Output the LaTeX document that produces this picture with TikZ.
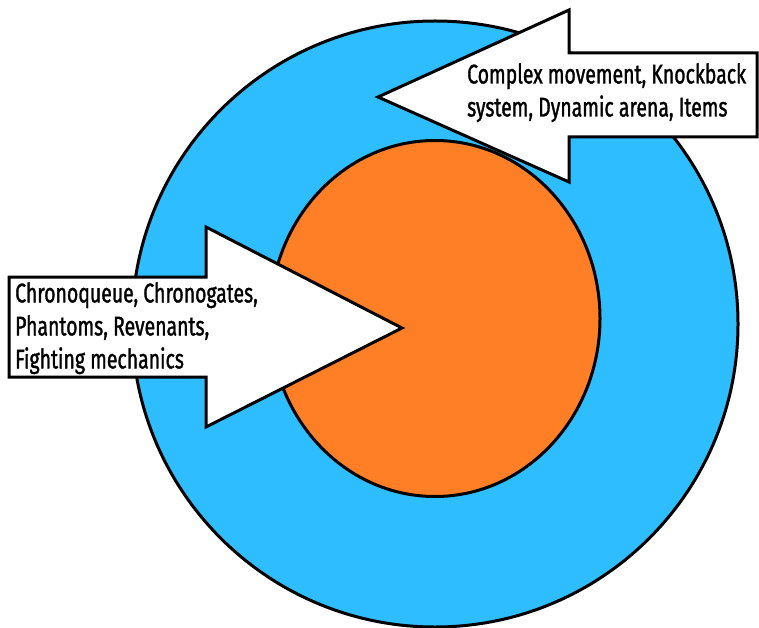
\documentclass[tikz,border=0pt]{standalone}
\usepackage{fontspec}
\setmainfont{Fira Sans}[FakeStretch=0.72,FakeBold=1.2]
\usetikzlibrary{shapes.geometric}
\definecolor{ringblue}{RGB}{46,190,255}
\definecolor{coreorange}{RGB}{255,127,39}
\begin{document}
\begin{tikzpicture}[x=1pt,y=-1pt,
  outline/.style={draw=black,line width=3pt,line join=miter},
  lbl/.style={font=\fontsize{27}{33}\selectfont, align=left, anchor=north west, inner sep=0pt, text=black}]
\useasboundingbox (0,0) rectangle (759,628);
\node[outline, circle, fill=ringblue, minimum size=606pt, inner sep=0pt] (outer) at (435,324) {};
\node[outline, ellipse, fill=coreorange, minimum width=330pt, minimum height=356pt, inner sep=0pt] (core) at (435,318.5) {};
\draw[outline, fill=white] (9,277) -- (206,277) -- (206,227) -- (402,328) -- (206,427) -- (206,377) -- (9,377) -- cycle;
\draw[outline, fill=white] (757,53) -- (569,53) -- (569,10) -- (378,97) -- (569,182) -- (569,137) -- (757,137) -- cycle;
\node[lbl] (lefttext) at (15,282) {Chronoqueue, Chronogates,\\Phantoms, Revenants,\\Fighting mechanics};
\node[lbl] (righttext) at (467,63) {Complex movement, Knockback\\system, Dynamic arena, Items};
\end{tikzpicture}
\end{document}
